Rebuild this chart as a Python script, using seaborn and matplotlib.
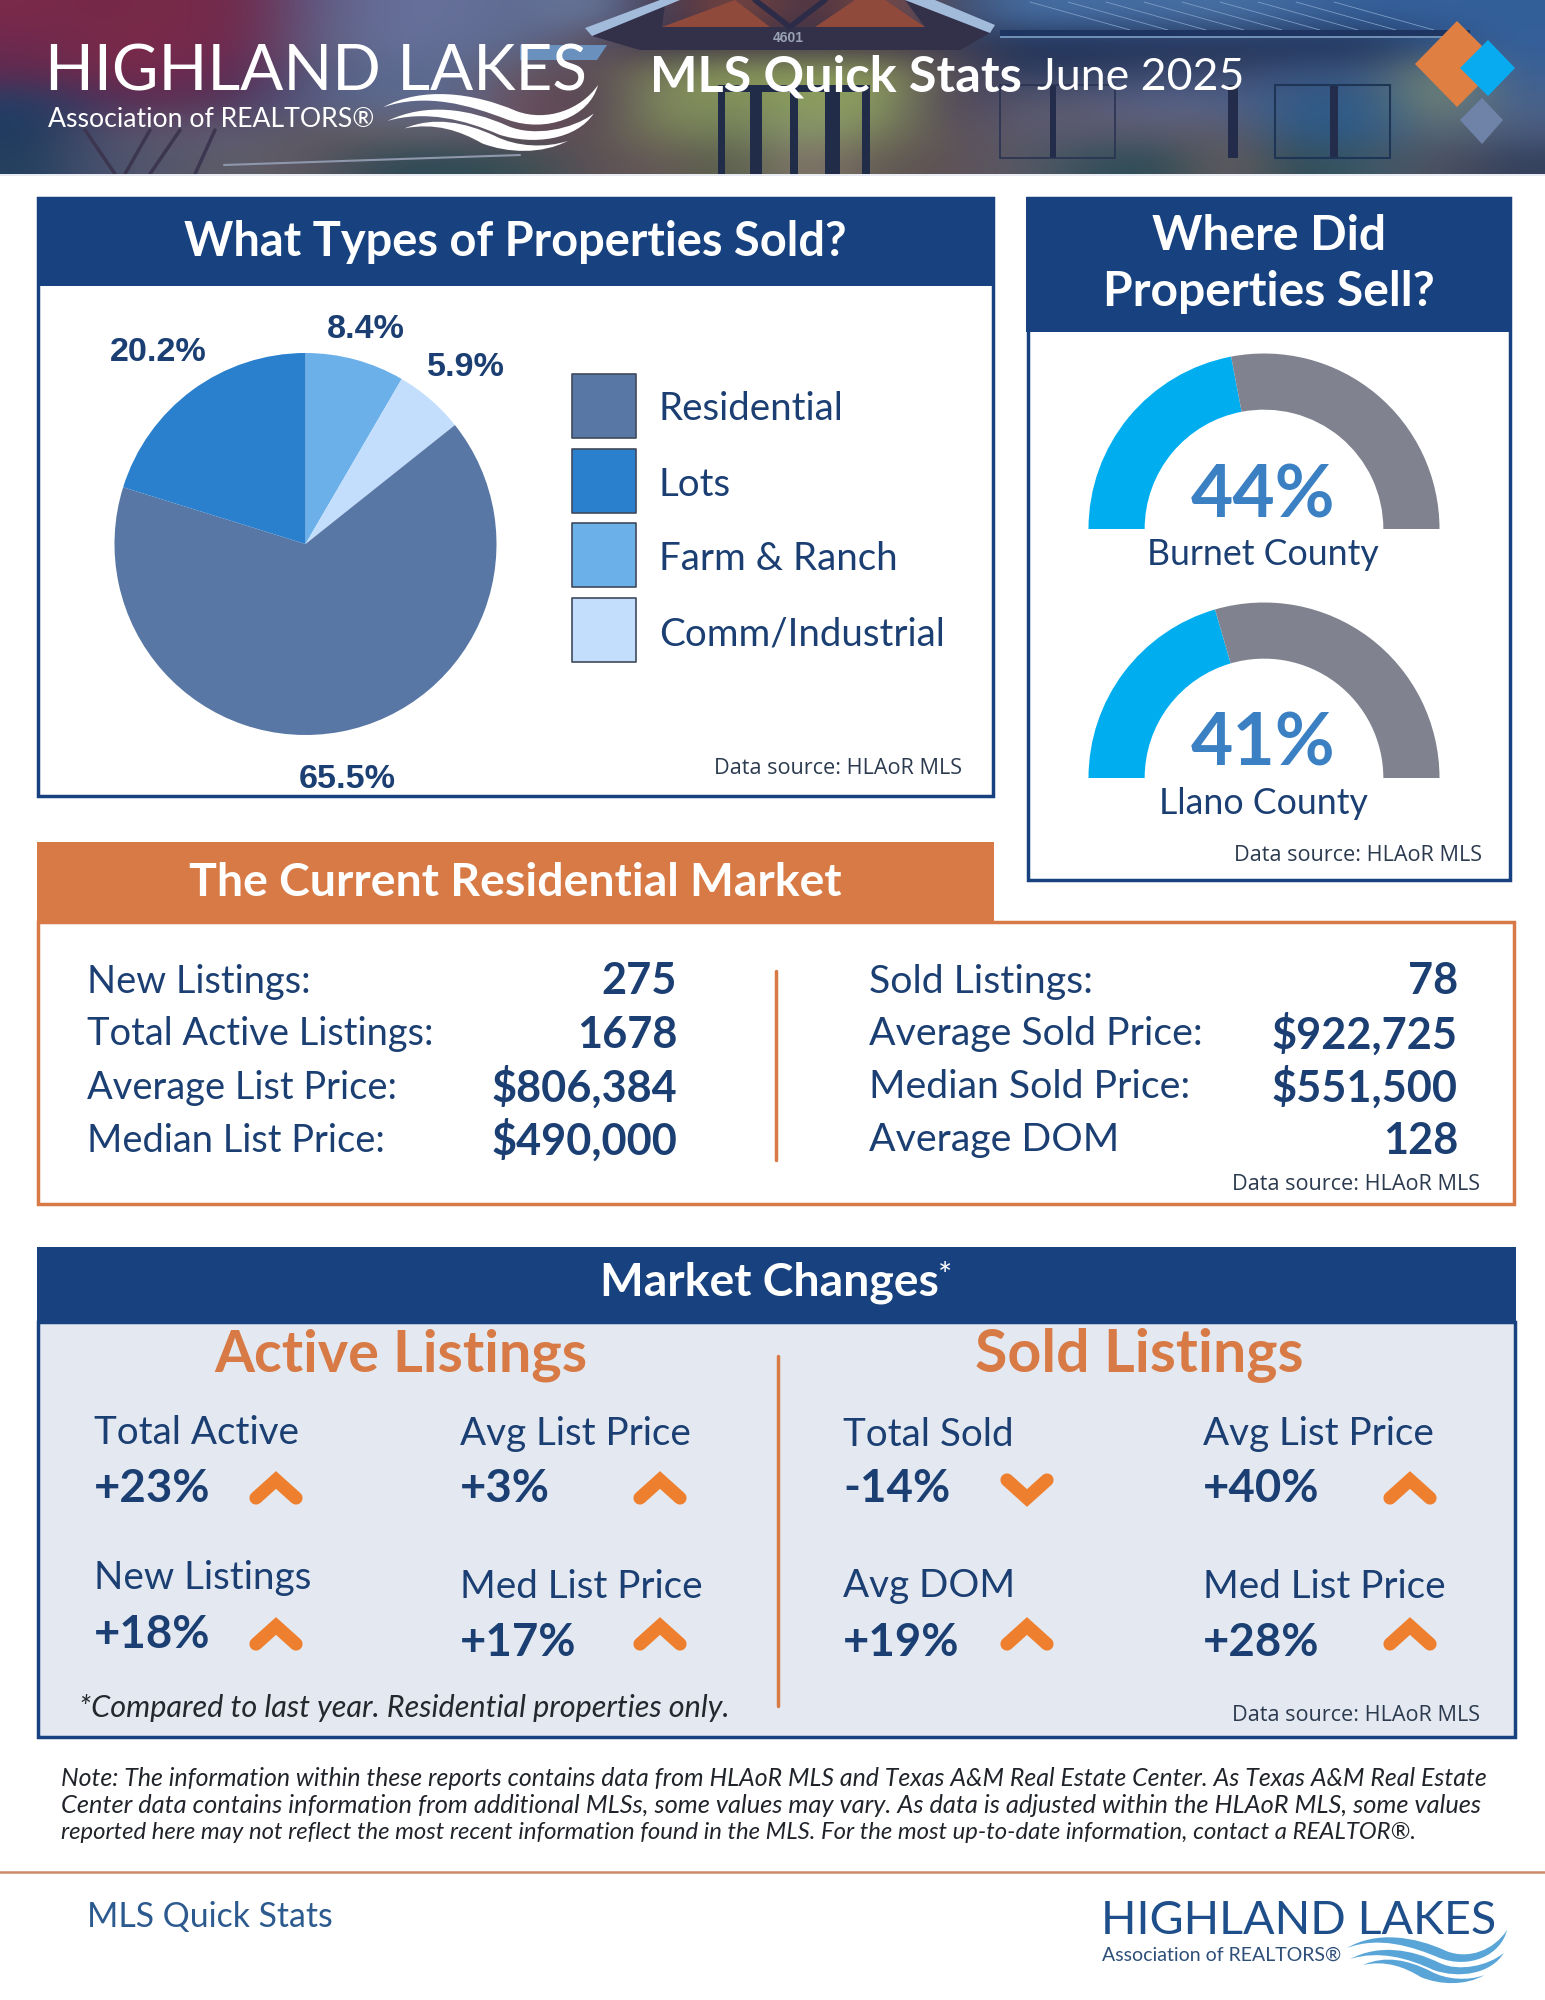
import matplotlib
matplotlib.use("Agg")
import matplotlib.pyplot as plt
from matplotlib.colors import to_rgb
from matplotlib.patches import Rectangle, Polygon, PathPatch
from matplotlib.path import Path
import numpy as np
import pandas as pd
import seaborn as sns

# data
property_types = ["Farm & Ranch", "Comm/Industrial", "Residential", "Lots"]
property_share = [8.4, 5.9, 65.5, 20.2]
legend_order = ["Residential", "Lots", "Farm & Ranch", "Comm/Industrial"]

counties = ["Burnet County", "Llano County"]
county_share = [44, 41]

active_labels = ["New Listings:", "Total Active Listings:", "Average List Price:", "Median List Price:"]
active_values = ["275", "1678", "$806,384", "$490,000"]
sold_labels = ["Sold Listings:", "Average Sold Price:", "Median Sold Price:", "Average DOM"]
sold_values = ["78", "$922,725", "$551,500", "128"]

change_labels = [["Total Active", "Avg List Price", "Total Sold", "Avg List Price"],
                 ["New Listings", "Med List Price", "Avg DOM", "Med List Price"]]
change_values = [[23, 3, -14, 40],
                 [18, 17, 19, 28]]

note_lines = ["Note: The information within these reports contains data from HLAoR MLS and Texas A&M Real Estate Center. As Texas A&M Real Estate",
              "Center data contains information from additional MLSs, some values may vary. As data is adjusted within the HLAoR MLS, some values",
              "reported here may not reflect the most recent information found in the MLS. For the most up-to-date information, contact a REALTOR®."]
note_widths = [1421, 1421, 1355]

# coarse colours of the header photo, smoothed when drawn
photo = [
    "#7a2a4a #752848 #7a2a48 #6e2a4c #5f5a82 #66709a #66709a #5f6a90 #6a7ca0 #3a3048 #8a4a3c #3a3048 #8a4a3c #3f4a68 #466ea3 #466ea3 #466ea3 #4a72a6 #3f689f #35609a #35609a #33609a",
    "#6e2a50 #7a2a48 #7a2a4a #6a2a50 #5f6080 #66709a #636e96 #5a6a90 #5a4a58 #3a3148 #3a3148 #3a3148 #3a3148 #3f3b50 #1f3055 #1f3055 #1f3055 #1f3055 #1f3055 #1f3055 #2c4f85 #35609a",
    "#5f2a50 #752a4a #702a50 #5d2d55 #545a7a #5c6a90 #5c6a90 #66545c #5d4b55 #7a8458 #8d9a5a #8d9a5a #8d9a5a #5d4b55 #2f3f62 #2f3f62 #3c4a70 #3a4668 #3c5580 #3c5580 #7b8a70 #3a5f96",
    "#253f66 #4d2f5a #5d2e52 #4a3a60 #57628c #5c6a90 #5c6a90 #6d4d58 #4c3f55 #8a9660 #7a8a58 #8da060 #8da060 #4c3f55 #56586f #5c5c75 #56648c #56648c #2f5a88 #2f5a88 #7b8a70 #46608c",
    "#1d3a5f #55506a #5f5670 #5c5c75 #60585f #6a6268 #66606c #6d4d58 #5a4d55 #7a8258 #6f7c58 #8c9a70 #7a8458 #5a4d55 #5c5a6e #5c5a6e #5e5d70 #5f5a68 #2c5a86 #2f5a88 #5f6a70 #4a5c80",
    "#243f5f #4c5470 #56566a #5f5f68 #5c5560 #2f4a55 #2f4a55 #3a5055 #5f5055 #665a58 #556048 #8a7a72 #5f5a50 #5f5055 #5a5a68 #35505a #2a4a55 #6f5f60 #2a4a55 #3f5a68 #50505f #33405c",
]

NAVY = "#17427f"
TEXT = "#1b3f72"
ORANGE = "#d87a45"
ARROW = "#ee7f2f"
PIE_COLORS = dict(zip(legend_order, sns.color_palette(["#5877a5", "#2a80cc", "#6cb0ea", "#c3defc"])))
W, H = 1545, 2000

sns.set_theme(style="white")
plt.rcParams["font.family"] = ["Lato", "DejaVu Sans"]

fig = plt.figure(figsize=(W / 100, H / 100), dpi=100, facecolor="white")
ax = fig.add_axes([0, 0, 1, 1])
ax.axis("off")
renderer = fig.canvas.get_renderer()


def px_axes(x, y, w, h):
    a = fig.add_axes([x / W, 1 - (y + h) / H, w / W, h / H])
    a.patch.set_alpha(0)
    return a


def size_for(s, width, **kw):
    t = ax.text(0, 0, s, fontsize=20, **kw)
    w = t.get_window_extent(renderer).width
    t.remove()
    return 20 * width / w


def txt(x, y, s, size, color=TEXT, ha="left", **kw):
    return ax.text(x, y + 2.5, s, fontsize=size, color=color, ha=ha, va="center", **kw)


def box(x0, y0, x1, y1, fc="none", ec="none", lw=0, z=1):
    ax.add_patch(Rectangle((x0, y0), x1 - x0, y1 - y0, fc=fc, ec=ec, lw=lw, zorder=z))


def poly(pts, color, z=1):
    ax.add_patch(Polygon(pts, closed=True, fc=color, ec="none", zorder=z))


def wave(x, y, w, h, color, z=3):
    # three ribbons of the logo, in a 0-1 box
    ribbons = [[(0, .36), (.18, .02), (.42, .12), (.62, .42), (.76, .60), (.92, .40), (1, 0), (.96, .52), (.76, .78), (.58, .56), (.40, .32), (.20, .12), (0, .36)],
               [(.02, .58), (.20, .28), (.40, .38), (.58, .66), (.70, .84), (.88, .72), (.98, .46), (.90, .88), (.70, .98), (.54, .80), (.38, .56), (.20, .40), (.02, .58)],
               [(.10, .70), (.24, .50), (.38, .60), (.52, .82), (.62, 1.0), (.76, 1.02), (.86, .90), (.74, 1.12), (.58, 1.10), (.46, .94), (.36, .74), (.24, .60), (.10, .70)]]
    for r in ribbons:
        pts = [(x + a * w, y + b * h) for a, b in r]
        codes = [Path.MOVETO] + [Path.CURVE4] * (len(pts) - 1)
        ax.add_patch(PathPatch(Path(pts, codes), fc=color, ec="none", zorder=z))


# header photo: smoothed colours, then the few hard edges of the building
grid = np.array([[to_rgb(c) for c in row.split()] for row in photo])
ax.imshow(grid, extent=(0, W, 174, 0), aspect="auto", interpolation="bicubic", zorder=0)
ax.set_xlim(0, W)
ax.set_ylim(H, 0)

poly([(662, 27), (735, 0), (770, 27)], "#8f4a3c", z=2)
poly([(815, 27), (855, 0), (885, 0), (925, 27)], "#8f4a3c", z=2)
poly([(592, 36), (665, 5), (662, 27), (925, 27), (905, 0), (990, 33), (960, 50), (640, 50)], "#33304a", z=2)
poly([(585, 28), (660, 0), (680, 0), (592, 36)], "#a3bbdb", z=2)
poly([(905, 0), (935, 0), (995, 25), (990, 33)], "#a3bbdb", z=2)
poly([(520, 45), (607, 45), (597, 60), (520, 60)], "#6a91bd", z=2)
for x0, x1 in [(755, 790), (825, 790)]:
    ax.plot([x0, x1], [0, 27], color="#2d2c48", lw=4, zorder=2)
ax.text(788, 38, "4601", fontsize=10, color="#9aa3b5", fontweight="bold", ha="center", va="center",
        family="Liberation Sans", zorder=3)
for x0, x1 in [(718, 725), (750, 762), (790, 798), (825, 840), (862, 870)]:
    box(x0, 85, x1, 174, fc="#212c48", z=2)
box(718, 85, 870, 92, fc="#212c48", z=2)
for i in range(9):
    ax.plot([1030 + 38 * i, 1130 + 38 * i], [2, 30], color="#7d9cc4", lw=0.6, zorder=2)
box(1000, 30, 1470, 37, fc="#1d3560", z=2)
box(1000, 36, 1470, 38, fc="#6f8fb5", z=2)
for x0, x1 in [(1050, 1056), (1228, 1238), (1330, 1338)]:
    box(x0, 85, x1, 158, fc="#232c4a", z=2)
box(1000, 85, 1115, 158, ec="#2a3352", lw=1.2, z=2)
box(1275, 85, 1390, 158, ec="#1e3556", lw=1.5, z=2)
for x0, x1 in [(85, 115), (150, 125), (180, 150), (215, 195)]:
    ax.plot([x0, x1], [130, 174], color="#3c3650", lw=2.5, zorder=2)
ax.plot([224, 520], [165, 155], color="#8e97ab", lw=1.5, zorder=2)
box(0, 174, W, 176, fc="#e8ecf2", z=2)

# logo and title
txt(45, 70, "HIGHLAND LAKES", size_for("HIGHLAND LAKES", 540), color="white", zorder=4)
txt(48, 117, "Association of REALTORS®", size_for("Association of REALTORS®", 326), color="white", zorder=4)
wave(383, 85, 215, 62, "white", z=4)
txt(650, 75, "MLS Quick Stats", size_for("MLS Quick Stats", 372, fontweight="bold"), color="white", fontweight="bold", zorder=4)
txt(1037, 75, "June 2025", size_for("June 2025", 208), color="white", zorder=4)
poly([(1482, 98), (1503, 120), (1482, 144), (1460, 120)], "#6f83a8", z=3)
poly([(1457, 21), (1500, 64), (1457, 107), (1415, 64)], "#e07f42", z=3)
poly([(1488, 40), (1515, 68), (1488, 96), (1460, 68)], "#08aaf0", z=4)

# what types panel
box(38, 198, 993, 796, fc="white", ec=NAVY, lw=2.5)
box(37, 197, 994, 286, fc=NAVY, z=2)
s = "What Types of Properties Sold?"
txt(515, 240, s, size_for(s, 663, fontweight="bold"), color="white", ha="center", fontweight="bold", zorder=3)

pie_ax = px_axes(305.5 - 191, 544 - 191, 382, 382)
pie_ax.pie(property_share, colors=[PIE_COLORS[p] for p in property_types], startangle=90, counterclock=False,
           radius=1, wedgeprops=dict(linewidth=0))
pie_ax.set_xlim(-1, 1)
pie_ax.set_ylim(-1, 1)
pie_ax.axis("off")

pie_font = dict(family="Liberation Sans", fontweight="bold")
pie_pos = {"Farm & Ranch": (366, 327), "Comm/Industrial": (466, 365), "Residential": (347, 777), "Lots": (158, 350)}
pie_size = size_for("65.5%", 97, **pie_font)
for p, v in zip(property_types, property_share):
    txt(pie_pos[p][0], pie_pos[p][1], f"{v}%", pie_size, ha="center", **pie_font)

legend_df = pd.DataFrame({"x": [604] * 4, "y": [406, 481, 555, 630], "kind": legend_order})
sns.scatterplot(data=legend_df, x="x", y="y", hue="kind", palette=PIE_COLORS, marker="s", s=(64 * 0.72) ** 2,
                edgecolor="#3f4a5c", linewidth=1.2, legend=False, ax=ax, zorder=3)
ax.set_xlim(0, W)
ax.set_ylim(H, 0)
legend_size = size_for("Comm/Industrial", 286)
for y, name in zip([407, 482, 557, 632], legend_order):
    txt(659, y, name, legend_size)

src_size = size_for("Data source: HLAoR MLS", 247, family="Open Sans")
src_font = dict(family="Open Sans", color="#2b3a4e")
txt(962, 766, "Data source: HLAoR MLS", src_size, ha="right", **src_font)

# where did panel
box(1028, 198, 1510, 880, fc="white", ec=NAVY, lw=2.5)
box(1026, 197, 1511, 332, fc=NAVY, z=2)
s = "Properties Sell?"
title_size = size_for(s, 333, fontweight="bold")
txt(1269, 233, "Where Did", title_size, color="white", ha="center", fontweight="bold", zorder=3)
txt(1269, 289, s, title_size, color="white", ha="center", fontweight="bold", zorder=3)

gauge_base = [529, 778]
gauge_pct_y = [494, 743]
gauge_name_y = [552, 801]
for base, py, ny, name, v in zip(gauge_base, gauge_pct_y, gauge_name_y, counties, county_share):
    g = px_axes(1264 - 175.5, base - 175.5, 351, 351)
    g.pie([v, 100 - v, 100], colors=["#00aeef", "#80838f", "none"], startangle=180, counterclock=False,
          wedgeprops=dict(width=0.32, linewidth=0))
    g.set_xlim(-1, 1)
    g.set_ylim(-1, 1)
    g.axis("off")
    txt(1263, py, f"{v}%", size_for("44%", 145, fontweight="bold"), color="#3a80c3", ha="center", fontweight="bold")
    txt(1263, ny, name, size_for("Burnet County", 232), ha="center")
txt(1482, 853, "Data source: HLAoR MLS", src_size, ha="right", **src_font)

# current market panel
box(38, 922, 1514, 1204, fc="white", ec=ORANGE, lw=2.5)
box(37, 842, 994, 921, fc=ORANGE, z=2)
s = "The Current Residential Market"
txt(515, 880, s, size_for(s, 653, fontweight="bold"), color="white", ha="center", fontweight="bold", zorder=3)
row_y = [979, 1032, 1085, 1138]
label_size = size_for("Total Active Listings:", 347)
value_size = size_for("$806,384", 186, fontweight="bold")
for y, a, b, c, d in zip(row_y, active_labels, active_values, sold_labels, sold_values):
    txt(87, y, a, label_size)
    txt(677, y, b, value_size, ha="right", fontweight="bold")
    txt(869, y, c, label_size * 1.03)
    txt(1458, y, d, value_size, ha="right", fontweight="bold")
ax.plot([776, 776], [971, 1160], color=ORANGE, lw=2.5)
txt(1480, 1182, "Data source: HLAoR MLS", src_size, ha="right", **src_font)

# market changes panel
box(38, 1322, 1515, 1737, fc="#e4e9f1", ec=NAVY, lw=2.5)
box(37, 1247, 1516, 1322, fc=NAVY, z=2)
s = "Market Changes"
txt(600, 1280, s, size_for(s, 338, fontweight="bold"), color="white", fontweight="bold", zorder=3)
txt(938, 1274, "*", 24, color="white", zorder=3)

txt(401, 1353, "Active Listings", size_for("Active Listings", 374, fontweight="bold"), color=ORANGE, ha="center", fontweight="bold")
txt(1139, 1353, "Sold Listings", size_for("Sold Listings", 329, fontweight="bold"), color=ORANGE, ha="center", fontweight="bold")
ax.plot([778, 778], [1356, 1706], color=ORANGE, lw=2.5)

col_x = [94, 460, 843, 1203]
arrow_x = [276, 660, 1027, 1410]
label_y = [[1431, 1432, 1432, 1432], [1576, 1584, 1584, 1584]]
value_y = [[1487, 1487, 1487, 1487], [1632, 1640, 1640, 1640]]
arrow_y = [[1487, 1487, 1491, 1487], [1633, 1633, 1633, 1633]]
chg_label_size = size_for("Total Active", 205)
chg_value_size = size_for("+23%", 116, fontweight="bold")
for r in range(2):
    for c in range(4):
        v = change_values[r][c]
        txt(col_x[c], label_y[r][c], change_labels[r][c], chg_label_size)
        txt(col_x[c], value_y[r][c], f"{v:+d}%", chg_value_size, fontweight="bold")
        d = 1 if v > 0 else -1
        ax.plot([arrow_x[c] - 20, arrow_x[c], arrow_x[c] + 20],
                [arrow_y[r][c] + 11 * d, arrow_y[r][c] - 7 * d, arrow_y[r][c] + 11 * d],
                color=ARROW, lw=9.5, solid_capstyle="round", solid_joinstyle="miter", zorder=3)

s = "*Compared to last year. Residential properties only."
txt(79, 1705, s, size_for(s, 652, style="italic"), color="#23272e", style="italic")
txt(1480, 1713, "Data source: HLAoR MLS", src_size, ha="right", **src_font)

# note and footer
for y, line, w in zip([1776, 1803, 1830], note_lines, note_widths):
    txt(61, y, line, size_for(line, w, style="italic"), color="#20242a", style="italic")
ax.plot([0, W], [1872, 1872], color="#c98a68", lw=1.8)
txt(87, 1914, "MLS Quick Stats", size_for("MLS Quick Stats", 246), color="#2c5a8e")
txt(1101, 1918, "HIGHLAND LAKES", size_for("HIGHLAND LAKES", 394), color="#1f4f8a")
txt(1102, 1953, "Association of REALTORS®", size_for("Association of REALTORS®", 238), color="#2d4f78")
wave(1347, 1930, 160, 50, "#5aa5d8")

fig.savefig("out.png", dpi=100)
